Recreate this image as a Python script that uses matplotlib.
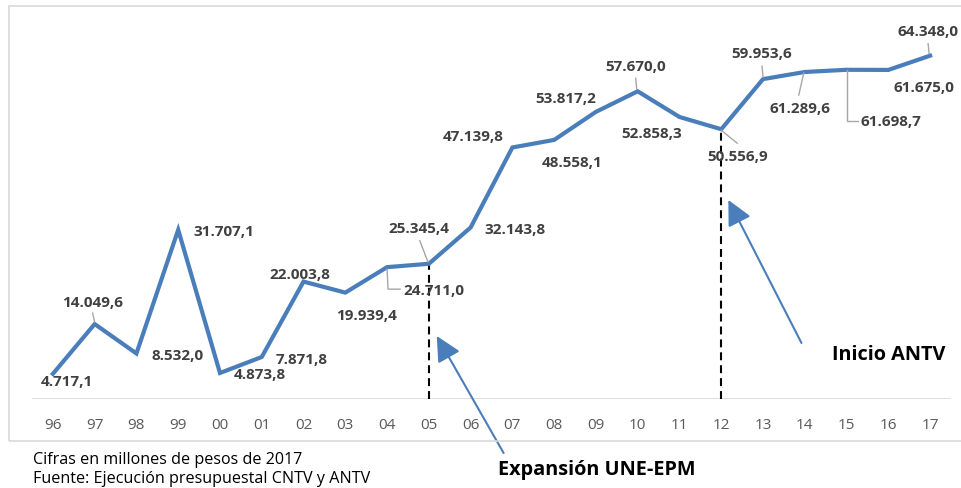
# Presupuesto CNTV / ANTV 1996-2017, linea con etiquetas
import matplotlib.pyplot as plt
from matplotlib.patches import Rectangle
from matplotlib.lines import Line2D

years = ['96', '97', '98', '99', '00', '01', '02', '03', '04', '05', '06',
         '07', '08', '09', '10', '11', '12', '13', '14', '15', '16', '17']
values = [4717.1, 14049.6, 8532.0, 31707.1, 4873.8, 7871.8, 22003.8,
          19939.4, 24711.0, 25345.4, 32143.8, 47139.8, 48558.1, 53817.2,
          57670.0, 52858.3, 50556.9, 59953.6, 61289.6, 61698.7, 61675.0,
          64348.0]
marked_years = ['05', '12']
notes = ['Expansión UNE-EPM', 'Inicio ANTV']
footnotes = ['Cifras en millones de pesos de 2017',
             'Fuente: Ejecución presupuestal CNTV y ANTV']

# label offsets in pixels (dx right, dy down) and leader paths (same sense)
label_off = [(14, 7), (-2, -22), (41, 2), (46, 1), (40, 1), (40, 2), (-4, -8),
             (21, 22), (47, 23), (-10, -36), (44, 2), (-39, -11), (18, 22),
             (-30, -14), (-2, -25), (-28, 16), (16, 27), (-1, -26), (-5, 36),
             (44, 51), (36, 17), (-2, -25)]
leaders = {1: [(0, -2), (-2, -11)],
           8: [(0, 2), (1, 22), (13, 22)],
           9: [(-1, -2), (-9, -23)],
           14: [(-1, -2), (-2, -13)],
           16: [(0, 1), (16, 14)],
           17: [(0, -2), (-1, -13)],
           18: [(-1, 1), (-6, 23)],
           19: [(0, 0), (0, 51), (11, 51)],
           21: [(-1, -2), (-2, -12)]}

W, H = 962, 489
fig = plt.figure(figsize=(W / 100, H / 100), dpi=100)
ax = fig.add_axes([32 / W, (H - 400) / H, (951 - 32) / W, (400 - 26.5) / H])

blue = '#4a7ebb'
x = list(range(len(years)))
ax.plot(x, values, color=blue, lw=3, solid_joinstyle='miter', zorder=3)
ax.set_xlim(-0.5, len(years) - 0.5)
ax.set_ylim(0, 70000)

for yr in marked_years:
    i = years.index(yr)
    ax.plot([i, i], [0, values[i]], color='black', lw=1.5,
            dashes=(3.8, 2.4), zorder=2)

ax.axhline(0, color='#d9d9d9', lw=1.2, zorder=1)
for s in ax.spines.values():
    s.set_visible(False)
ax.set_yticks([])
ax.set_xticks(x)
ax.set_xticklabels(years, family='Open Sans', fontsize=11, color='#595959')
ax.tick_params(axis='x', length=0, pad=13)

def fmt(v):
    s = f'{v:,.1f}'
    return s.replace(',', '#').replace('.', ',').replace('#', '.')

for i, v in enumerate(values):
    dx, dy = label_off[i]
    ax.annotate(fmt(v), (i, v), xytext=(dx, -dy), textcoords='offset pixels',
                ha='center', va='center', family='Open Sans',
                fontweight='bold', fontsize=11, color='#404040', zorder=4)

# leader lines drawn in pixel space
for i, path in leaders.items():
    px, py = ax.transData.transform((i, values[i]))
    xs = [px + p[0] for p in path]
    ys = [py - p[1] for p in path]
    fig.add_artist(Line2D(xs, ys, color='#a6a6a6', lw=1, transform=None,
                          zorder=2))

# arrows towards the dashed lines
arrow_kw = dict(arrowstyle='-|>,head_length=0.9,head_width=0.45',
                color=blue, lw=1.5, shrinkA=0, shrinkB=0, mutation_scale=17)
ax.annotate('', xy=(9.19, 11810), xytext=(10.79, -10120),
            arrowprops=arrow_kw, annotation_clip=False)
ax.annotate('', xy=(16.17, 37300), xytext=(17.92, 10500),
            arrowprops=arrow_kw, annotation_clip=False)

fig.text(597 / W, 1 - 470 / H, notes[0], ha='center', va='center',
         family='Open Sans', fontweight='bold', fontsize=14.3, color='black')
fig.text(889 / W, 1 - 355 / H, notes[1], ha='center', va='center',
         family='Open Sans', fontweight='bold', fontsize=14.3, color='black')

fig.text(33 / W, 1 - 460 / H, footnotes[0], ha='left', va='center',
         family='Open Sans', fontsize=11.6, color='black')
fig.text(33 / W, 1 - 479 / H, footnotes[1], ha='left', va='center',
         family='Open Sans', fontsize=11.6, color='black')

# chart border
fig.add_artist(Rectangle((9, H - 442), 970, 435, fill=False,
                         edgecolor='#d9d9d9', lw=1.2, transform=None))

fig.savefig('out.png', dpi=100)
